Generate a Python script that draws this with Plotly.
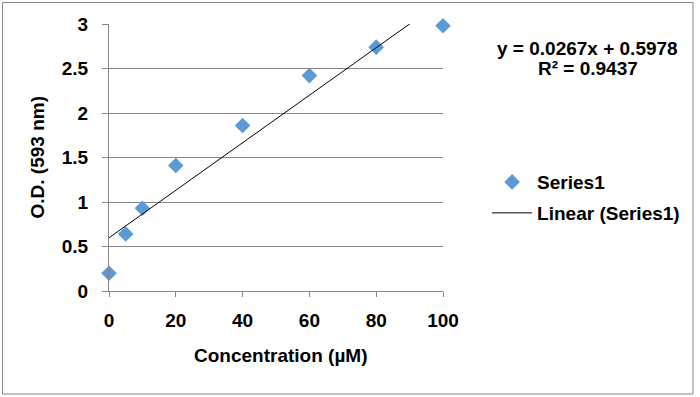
import plotly.graph_objects as go

# Data
concentration = [0, 5, 10, 20, 40, 60, 80, 100]
od_values = [0.2, 0.64, 0.93, 1.41, 1.86, 2.42, 2.74, 2.98]
slope = 0.0267
intercept = 0.5978
r_squared = 0.9437
x_ticks = [0, 20, 40, 60, 80, 100]
y_ticks = [0, 0.5, 1, 1.5, 2, 2.5, 3]

trend_x = [min(concentration), max(concentration)]
trend_y = [slope * v + intercept for v in trend_x]

GRID = "#868686"
FONT = "Liberation Sans"
FS = 19

def bold(size):
    return dict(family=FONT, size=size, color="black", weight="bold")

fig = go.Figure()
fig.add_trace(go.Scatter(
    x=concentration, y=od_values, mode="markers", name="Series1",
    marker=dict(symbol="diamond", size=12, color="#5B9BD5"),
    cliponaxis=False, legend="legend",
))
fig.add_trace(go.Scatter(
    x=trend_x, y=trend_y, mode="lines", name="Linear (Series1)",
    line=dict(color="black", width=1), legend="legend2",
))

fig.update_layout(
    width=700, height=397,
    margin=dict(l=109, r=257, t=24, b=106),
    paper_bgcolor="white", plot_bgcolor="white",
    font=bold(FS),
    xaxis=dict(range=[0, 100], tickvals=x_ticks, showgrid=False, zeroline=False,
               showline=True, linecolor=GRID, linewidth=1, tickfont=bold(FS),
               ticks="outside", ticklen=5, tickcolor=GRID, ticklabelstandoff=7),
    yaxis=dict(range=[0, 3], tickvals=y_ticks, showgrid=True, gridcolor=GRID, gridwidth=1,
               zeroline=False, showline=True, linecolor=GRID, linewidth=1, tickfont=bold(FS),
               ticks="outside", ticklen=6, tickcolor=GRID, ticklabelstandoff=10),
    legend=dict(x=1.132, y=0.408, xanchor="left", yanchor="middle", itemwidth=40,
                font=bold(FS), bgcolor="rgba(0,0,0,0)"),
    legend2=dict(x=1.132, y=0.292, xanchor="left", yanchor="middle", itemwidth=40,
                 font=bold(FS), bgcolor="rgba(0,0,0,0)"),
    showlegend=True,
)

fig.add_annotation(xref="paper", yref="paper", x=-0.2126, y=0.5, text="O.D. (593 nm)",
                   textangle=-90, showarrow=False, xanchor="center", yanchor="middle",
                   font=bold(FS))
fig.add_annotation(xref="paper", yref="paper", x=0.515, y=-0.24, text="Concentration (µM)",
                   showarrow=False, xanchor="center", yanchor="middle", font=bold(FS))
fig.add_annotation(xref="paper", yref="paper", x=1.434, y=0.91,
                   text=f"y = {slope}x + {intercept}", showarrow=False,
                   xanchor="center", yanchor="middle", font=bold(FS))
fig.add_annotation(xref="paper", yref="paper", x=1.434, y=0.832,
                   text=f"R² = {r_squared}", showarrow=False,
                   xanchor="center", yanchor="middle", font=bold(FS))

fig.add_shape(type="rect", xref="paper", yref="paper",
              x0=-0.3189, x1=1.7485, y0=-0.3858, y1=1.0805,
              line=dict(color=GRID, width=1), fillcolor="rgba(0,0,0,0)", layer="below")

fig.write_html("out.html", config={"displayModeBar": False},
               post_script="document.body.style.margin='0';document.body.style.overflow='hidden';")
